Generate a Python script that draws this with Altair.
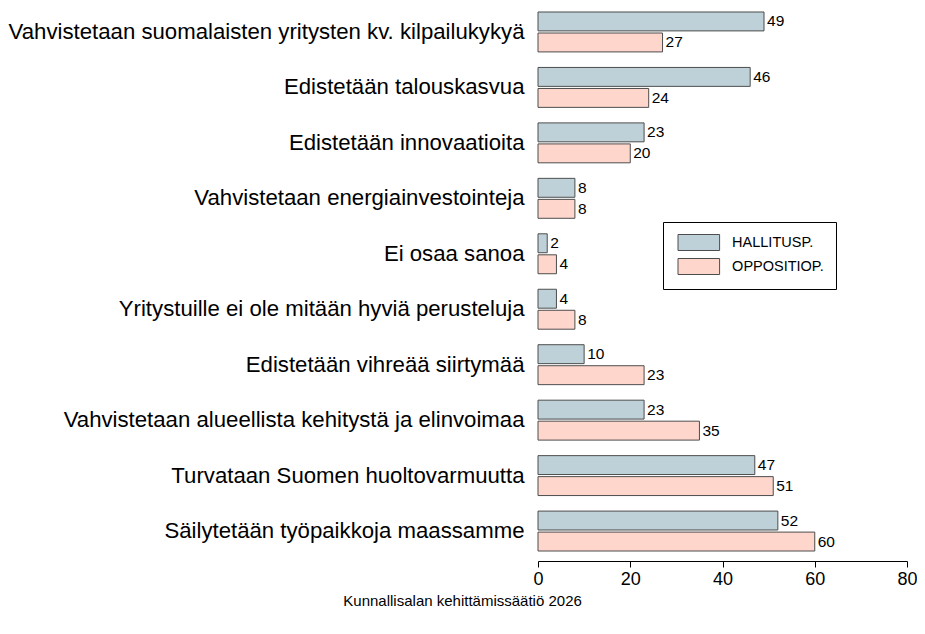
import altair as alt
import pandas as pd

categories = [
    "Vahvistetaan suomalaisten yritysten kv. kilpailukykyä",
    "Edistetään talouskasvua",
    "Edistetään innovaatioita",
    "Vahvistetaan energiainvestointeja",
    "Ei osaa sanoa",
    "Yritystuille ei ole mitään hyviä perusteluja",
    "Edistetään vihreää siirtymää",
    "Vahvistetaan alueellista kehitystä ja elinvoimaa",
    "Turvataan Suomen huoltovarmuutta",
    "Säilytetään työpaikkoja maassamme",
]
series = ["HALLITUSP.", "OPPOSITIOP."]
hallitus = [49, 46, 23, 8, 2, 4, 10, 23, 47, 52]
oppositio = [27, 24, 20, 8, 4, 8, 23, 35, 51, 60]
colors = ["#BED1D9", "#FFD6CC"]
x_ticks = [0, 20, 40, 60, 80]
caption = "Kunnallisalan kehittämissäätiö 2026"

rows = []
for c, h, o in zip(categories, hallitus, oppositio):
    rows.append({"cat": c, "group": series[0], "value": h})
    rows.append({"cat": c, "group": series[1], "value": o})
df = pd.DataFrame(rows)

FONT = "Liberation Sans"

y_enc = alt.Y(
    "cat:N",
    sort=categories,
    scale=alt.Scale(paddingInner=0.28, paddingOuter=0.072),
    axis=alt.Axis(
        title=None, domain=False, ticks=False, labelPadding=14,
        labelFontSize=22.2, labelFont=FONT, labelColor="black", labelLimit=600,
    ),
)
yoff = alt.YOffset("group:N", sort=series, scale=alt.Scale(paddingInner=0.1, paddingOuter=0))
x_enc = alt.X(
    "value:Q",
    scale=alt.Scale(domain=[0, 80], nice=False),
    axis=alt.Axis(
        title=None, values=x_ticks, grid=False, domainColor="black", tickColor="black",
        tickSize=6, labelFontSize=18, labelFont=FONT, labelColor="black", labelPadding=3,
        offset=6, labelFlush=False,
    ),
)

bars = alt.Chart(df).mark_bar(stroke="#4D4D4D", strokeWidth=1).encode(
    x=x_enc,
    y=y_enc,
    yOffset=yoff,
    color=alt.Color(
        "group:N",
        sort=series,
        scale=alt.Scale(domain=series, range=colors),
        legend=alt.Legend(
            title=None, orient="none", legendX=125, legendY=214,
            strokeColor="black", padding=12,
            symbolType="M-1,-1H4.2V1H-1Z", symbolSize=256,
            symbolStrokeColor="#4D4D4D", symbolStrokeWidth=1, symbolOpacity=1,
            symbolOffset=2.5, labelOffset=37.6, rowPadding=3,
            labelFontSize=14.5, labelFont=FONT, labelColor="black",
        ),
    ),
)

labels = alt.Chart(df).mark_text(
    align="left", baseline="middle", dx=3, fontSize=15.5, font=FONT, color="black"
).encode(
    x="value:Q",
    y=alt.Y("cat:N", sort=categories),
    yOffset=alt.YOffset("group:N", sort=series),
    text="value:Q",
)

chart = (
    alt.layer(bars, labels)
    .properties(
        width=369,
        height=547,
        padding={"left": 530, "top": 0, "right": 10, "bottom": 70},
        autosize=alt.AutoSizeParams(type="none"),
        title=alt.TitleParams(
            text=caption, orient="bottom", anchor="middle", frame="bounds",
            fontSize=15, font=FONT, fontWeight="normal", color="black", offset=6,
        ),
    )
    .configure_view(stroke=None)
)

chart.save("out.html", embed_options={"renderer": "svg", "actions": False})
